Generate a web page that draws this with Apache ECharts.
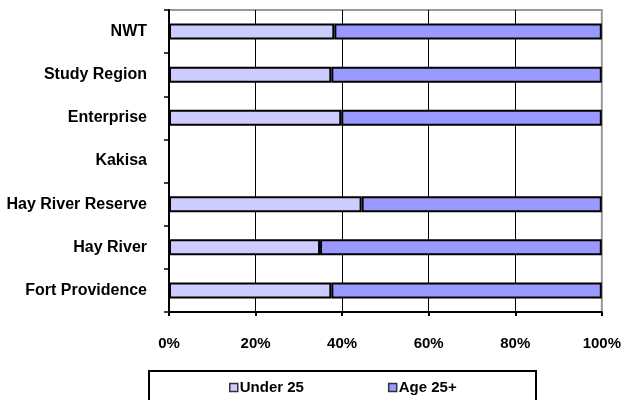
<!DOCTYPE html>
<html>
<head>
<meta charset="utf-8">
<script src="https://cdn.jsdelivr.net/npm/echarts@6/dist/echarts.min.js"></script>
<style>
  html, body { margin: 0; padding: 0; background: #fff; }
  #chart { width: 624px; height: 400px; }
</style>
</head>
<body>
<div id="chart"></div>
<script>
// Communities, listed bottom to top as they appear on the axis
const categories = ['Fort Providence', 'Hay River', 'Hay River Reserve', 'Kakisa', 'Enterprise', 'Study Region', 'NWT'];
// Share of population (%) by age group; Kakisa has no data
const under25 = [37.5, 34.9, 44.5, null, 39.8, 37.5, 38.2];
const age25plus = [62.5, 65.1, 55.5, null, 60.2, 62.5, 61.8];
const xTicks = [0, 20, 40, 60, 80, 100];

const font = 'Arial, "Liberation Sans", sans-serif';
const chart = echarts.init(document.getElementById('chart'), null, { renderer: 'canvas' });

chart.setOption({
  animation: false,
  backgroundColor: '#ffffff',
  grid: {
    left: 169, right: 21, top: 10, bottom: 88,
    show: true, borderColor: '#999999', borderWidth: 2, backgroundColor: 'transparent'
  },
  legend: {
    left: 229, top: 380, padding: 0,
    itemWidth: 8, itemHeight: 8, itemGap: 84,
    icon: 'rect',
    textStyle: { fontFamily: font, fontWeight: 'bold', fontSize: 15, color: '#000', padding: [0, 0, 0, -3] },
    data: [
      { name: 'Under 25', itemStyle: { color: '#CCCCFF', borderColor: '#333', borderWidth: 1.5 } },
      { name: 'Age 25+', itemStyle: { color: '#9999FF', borderColor: '#333', borderWidth: 1.5 } }
    ]
  },
  graphic: [{
    type: 'rect', left: 148, top: 370, z: -1,
    shape: { width: 387, height: 40 },
    style: { fill: '#fff', stroke: '#000', lineWidth: 2 }
  }],
  xAxis: {
    type: 'value', min: xTicks[0], max: xTicks[xTicks.length - 1], interval: 20,
    axisLine: { show: true, lineStyle: { color: '#000', width: 2 } },
    axisTick: { show: true, length: 4, inside: false, lineStyle: { color: '#000', width: 2 } },
    axisLabel: { formatter: '{value}%', margin: 24, fontFamily: font, fontWeight: 'bold', fontSize: 15, color: '#000' },
    splitLine: { show: true, showMinLine: false, showMaxLine: false, lineStyle: { color: '#000', width: 1 } }
  },
  yAxis: {
    type: 'category', data: categories,
    axisLine: { show: true, lineStyle: { color: '#000', width: 2 } },
    axisTick: { show: true, length: 5, lineStyle: { color: '#000', width: 1.5 } },
    axisLabel: { margin: 22, fontFamily: font, fontWeight: 'bold', fontSize: 16, color: '#000' },
    splitLine: { show: false }
  },
  series: [
    {
      name: 'Under 25', type: 'bar', stack: 'total', data: under25, barWidth: 16,
      itemStyle: { color: '#CCCCFF', borderColor: '#000', borderWidth: 2 }
    },
    {
      name: 'Age 25+', type: 'bar', stack: 'total', data: age25plus, barWidth: 16,
      itemStyle: { color: '#9999FF', borderColor: '#000', borderWidth: 2 }
    }
  ]
});
</script>
</body>
</html>
